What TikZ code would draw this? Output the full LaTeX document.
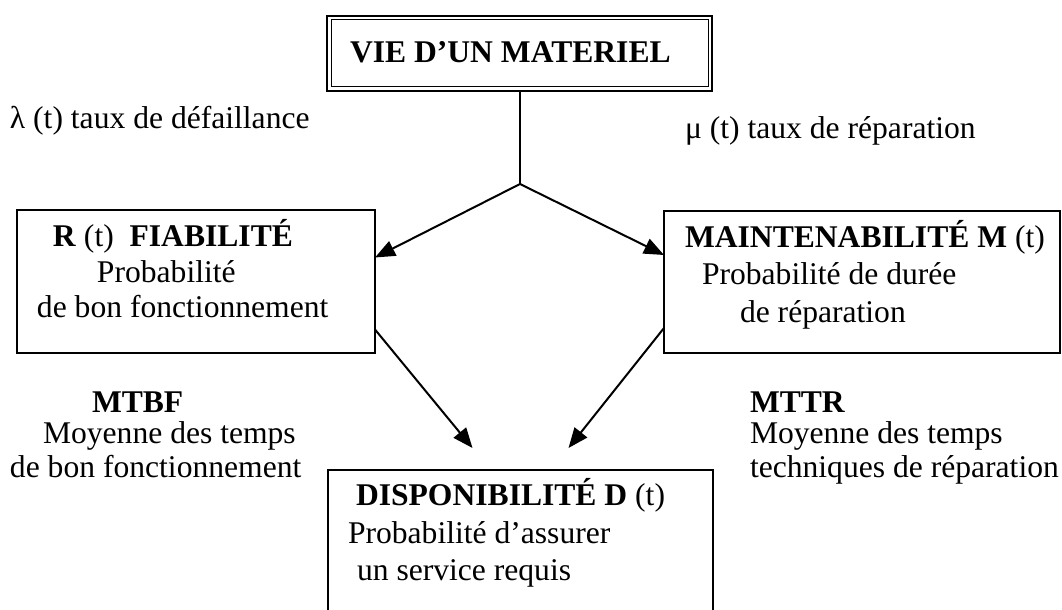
\documentclass[tikz,border=0pt]{standalone}
\usepackage{fontspec}
\setmainfont{Liberation Serif}
\usetikzlibrary{arrows.meta,calc}
\begin{document}
\begin{tikzpicture}[x=0.5pt,y=-0.5pt,
  txt/.style={anchor=base west,inner sep=0,outer sep=0,font=\fontsize{15.8}{19}\selectfont},
  box/.style={draw,line width=0.9pt,inner sep=0,outer sep=0},
  arr/.style={line width=1pt,-{Triangle[length=10pt,width=8pt]}},
  ]
\useasboundingbox (0,0) rectangle (1062,610);
\clip (0,0) rectangle (1062,610);
% boxes
\node[box, line width=1.4pt, minimum width=192.5pt, minimum height=37.5pt] (top) at (519.5,53.5) {};
\draw[line width=0.5pt] ([shift={(2pt,-2pt)}]top.north west) rectangle ([shift={(-2pt,2pt)}]top.south east);
\node[box, minimum width=179pt, minimum height=71.5pt] (R) at (196,281.5) {};
\node[box, minimum width=198pt, minimum height=71pt] (M) at (862,282) {};
\node[box, minimum width=192.5pt, minimum height=80pt] (D) at (520.5,550) {};
% connectors
\coordinate (J) at (520,184);
\draw[line width=0.6pt] (J |- top.south) -- (J);
\draw[arr] (J) -- ([yshift=12pt]R.east);
\draw[arr] (J) -- ([yshift=13.5pt]M.west);
\draw[arr] ([yshift=-24pt]R.east) -- ([shift={(-24pt,11pt)}]D.north);
\draw[arr] ([yshift=-23pt]M.west) -- ([shift={(24pt,11pt)}]D.north);
% texts
\node[txt] (tvie) at (350,63) {\bfseries VIE D’UN MATERIEL};
\node[txt] (lam) at (10,129) {λ (t) taux de défaillance};
\node[txt] (mu) at (685,139) {μ (t) taux de réparation};
\node[txt] (r1) at (53,247) {\textbf{R} (t)\ \ \textbf{FIABILITÉ}};
\node[txt] (r2) at (97,283) {Probabilité};
\node[txt] (r3) at (37,317) {de bon fonctionnement};
\node[txt] (m1) at (685,248) {\textbf{MAINTENABILITÉ M} (t)};
\node[txt] (m2) at (702,285) {Probabilité de durée};
\node[txt] (m3) at (740,322) {de réparation};
\node[txt] (b1) at (92,412) {\textbf{MTBF}};
\node[txt] (b2) at (43,444) {Moyenne des temps};
\node[txt] (b3) at (10,477) {de bon fonctionnement};
\node[txt] (t1) at (750,412) {\textbf{MTTR}};
\node[txt] (t2) at (750,444) {Moyenne des temps};
\node[txt] (t3) at (750,477) {techniques de réparation};
\node[txt] (d1) at (356,505) {\textbf{DISPONIBILITÉ D} (t)};
\node[txt] (d2) at (348,543) {Probabilité d’assurer};
\node[txt] (d3) at (357,580) {un service requis};
\end{tikzpicture}
\end{document}
